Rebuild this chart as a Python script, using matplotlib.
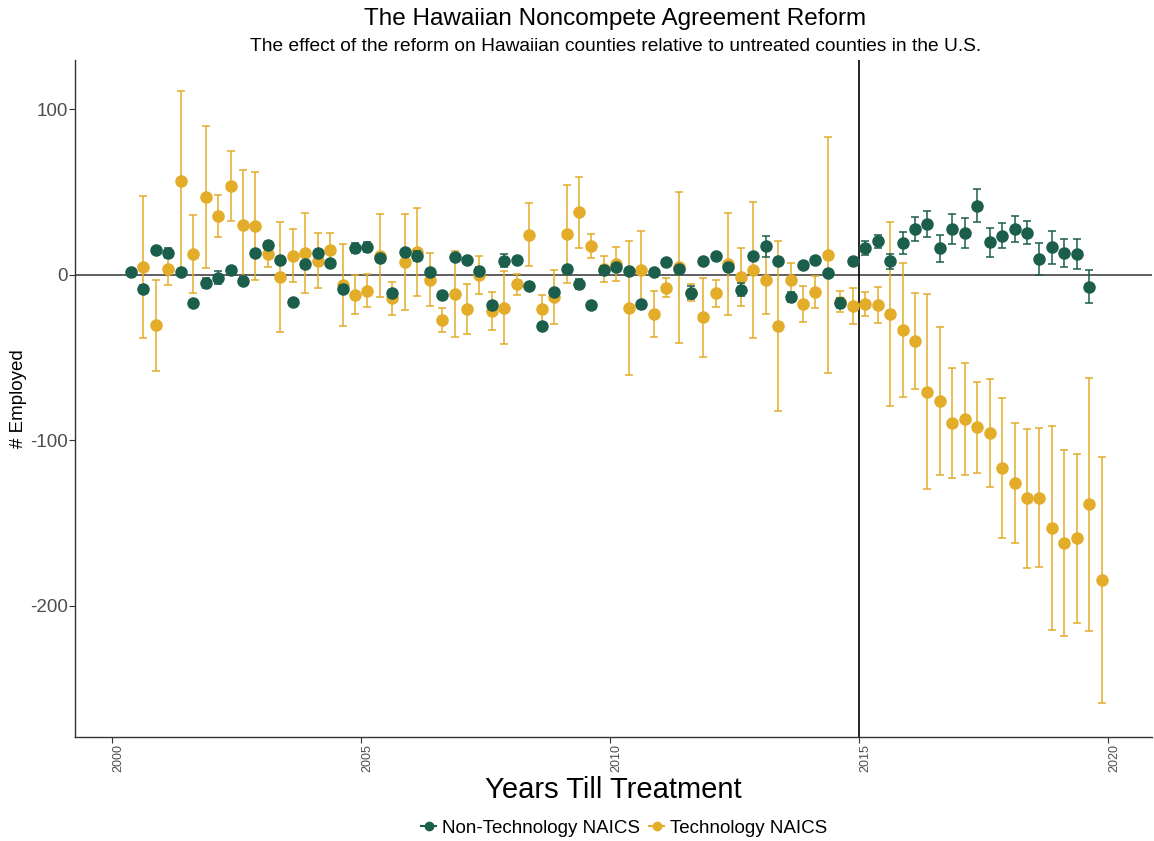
#####event study plot: Hawaiian noncompete reform, tech vs non-tech NAICS
import numpy as np
import matplotlib.pyplot as plt
from matplotlib.lines import Line2D
from matplotlib.transforms import ScaledTranslation

# colours
green = '#1b5e4b'
orange = '#e3ac29'

# Non-Technology NAICS estimates (quarterly, starting 2000 Q2)
nontech = [1.6, -8.3, 15.0, 13.2, 1.6, -17.0, -4.8, -1.8, 2.8, -3.4,
           13.2, 18.3, 9.2, -16.3, 6.4, 13.2, 7.0, -8.3, 16.3, 16.6,
           10.0, -11.1, 13.6, 11.4, 2.0, -11.9, 11.0, 9.2, 2.6, -17.9,
           8.6, 9.2, -7.0, -30.7, -10.1, 3.4, -5.4, -18.1, 3.2, 4.6,
           2.4, -17.7, 1.6, 8.0, 3.6, -10.7, 8.6, 11.4, 4.6, -8.9,
           11.4, 17.3, 8.6, -13.5, 5.8, 9.0, 1.4, -16.9, 8.2, 16.0,
           20.3, 8.2, 19.3, 27.7, 30.7, 16.0, 27.7, 25.3, 41.7, 19.7,
           23.7, 27.7, 25.5, 9.6, 16.6, 13.0, 12.6, -7.2]
nontech_se = [1.5, 2.0, 1.5, 3.0, 1.5, 1.5, 3.0, 4.0, 1.5, 2.0,
              1.5, 1.5, 1.5, 1.5, 1.5, 1.5, 1.5, 2.0, 3.0, 3.0,
              1.5, 1.5, 2.0, 3.0, 1.5, 1.5, 1.5, 1.5, 2.0, 1.5,
              4.0, 1.5, 2.0, 1.5, 1.5, 1.5, 3.0, 1.5, 2.0, 1.5,
              1.5, 2.0, 1.5, 1.5, 1.5, 4.0, 1.5, 1.5, 1.5, 4.0,
              1.5, 6.3, 1.5, 3.0, 1.5, 2.0, 1.5, 3.0, 1.5, 4.2,
              3.8, 4.7, 6.5, 7.5, 7.9, 8.2, 8.9, 8.8, 9.9, 8.7,
              7.7, 7.9, 6.8, 9.6, 10.0, 8.5, 8.8, 10.0]

# Technology NAICS estimates (start one quarter later)
tech = [4.6, -30.5, 3.4, 56.8, 12.6, 47.0, 35.5, 53.8, 30.1, 29.5,
        12.6, -1.2, 11.6, 13.2, 8.6, 15.0, -6.3, -11.9, -9.5, 11.6,
        -14.1, 7.6, 14.0, -2.8, -27.5, -11.3, -20.5, 0.2, -21.7, -19.9,
        -5.8, 24.3, -20.5, -13.5, 24.9, 37.7, 17.4, 3.6, 6.6, -19.9,
        3.2, -23.5, -7.7, 4.6, -10.7, -25.7, -11.1, 6.6, -1.2, 2.8,
        -3.2, -30.9, -3.0, -17.5, -10.5, 12.0, -16.1, -18.7, -17.7, -18.1,
        -23.5, -33.4, -39.8, -70.5, -75.9, -89.2, -87.0, -92.0, -95.6, -116.5,
        -125.7, -135.0, -134.6, -153.0, -161.9, -159.1, -138.6, -184.6]
tech_se = [43, 27.5, 9.5, 54, 23.5, 43, 12.5, 21, 33, 32.5,
           8, 33, 16, 24, 16.8, 10.3, 24.8, 12, 10, 25,
           10, 29, 26.7, 15.8, 7.3, 26, 15, 11.5, 11.6, 22,
           6.6, 19.2, 8.5, 16.2, 29.6, 21.6, 7.4, 7.7, 10.4, 40.5,
           23.6, 14, 5.9, 45.6, 5, 23.6, 8.1, 31, 17.6, 41,
           20.5, 51.2, 10.3, 11, 9.8, 71.2, 6.2, 11, 7.2, 10.8,
           55.6, 40.4, 29, 58.7, 44.7, 33.2, 34, 27.5, 32.8, 42.4,
           36.5, 42, 42, 61.5, 56, 51, 76.5, 74.3]

# quarter positions
x_nontech = 2000.375 + 0.25 * np.arange(len(nontech))
x_tech = 2000.625 + 0.25 * np.arange(len(tech))

year_ticks = [2000, 2005, 2010, 2015, 2020]
y_ticks = [-200, -100, 0, 100]

plt.rcParams['font.family'] = ['Liberation Sans', 'DejaVu Sans']
plt.rcParams['axes.unicode_minus'] = False

fig = plt.figure(figsize=(11.54, 8.41), dpi=100)
ax = fig.add_axes([0.065, 0.124, 0.933, 0.805])

ax.axhline(0, color='#444444', lw=1.2, zorder=1)
ax.axvline(2015, color='black', lw=1.2, zorder=1)

ax.errorbar(x_tech, tech, yerr=tech_se, fmt='o', color=orange, ms=8,
            ecolor=orange, elinewidth=1.1, capsize=3, capthick=1.1, zorder=2)
ax.errorbar(x_nontech, nontech, yerr=nontech_se, fmt='o', color=green, ms=8,
            ecolor=green, elinewidth=1.1, capsize=3, capthick=1.1, zorder=3)

ax.set_xlim(1999.25, 2020.88)
ax.set_ylim(-279, 130)
ax.set_xticks(year_ticks)
ax.set_yticks(y_ticks)
ax.tick_params(axis='x', labelsize=9, labelcolor='#4d4d4d', rotation=90, color='#333333', length=4, pad=1)
ax.tick_params(axis='y', labelsize=13.5, labelcolor='#4d4d4d', color='#333333', length=4, pad=1)
for lab in ax.get_xticklabels():
    lab.set_transform(lab.get_transform() + ScaledTranslation(6 / 100, 0, fig.dpi_scale_trans))

for s in ['top', 'right']:
    ax.spines[s].set_visible(False)
for s in ['left', 'bottom']:
    ax.spines[s].set_color('#333333')
    ax.spines[s].set_linewidth(1.0)

ax.set_xlabel('Years Till Treatment', fontsize=21, labelpad=3)
ax.set_ylabel('# Employed', fontsize=13.5)
ax.yaxis.set_label_coords(-0.0446, 0.5)

fig.text(0.533, 0.977, 'The Hawaiian Noncompete Agreement Reform', ha='center', va='center', fontsize=17.5)
fig.text(0.533, 0.945, 'The effect of the reform on Hawaiian counties relative to untreated counties in the U.S.',
         ha='center', va='center', fontsize=13.8)

# legend keys like ggplot pointrange
handles = [Line2D([], [], color=green, marker='o', ms=6, lw=1.5),
           Line2D([], [], color=orange, marker='o', ms=6, lw=1.5)]
fig.legend(handles, ['Non-Technology NAICS', 'Technology NAICS'],
           loc='center', bbox_to_anchor=(0.541, 0.0155), ncol=2, frameon=False, fontsize=13.5,
           handlelength=0.8, handletextpad=0.3, columnspacing=0.5, borderpad=0)

plt.savefig('out.png', dpi=100)
